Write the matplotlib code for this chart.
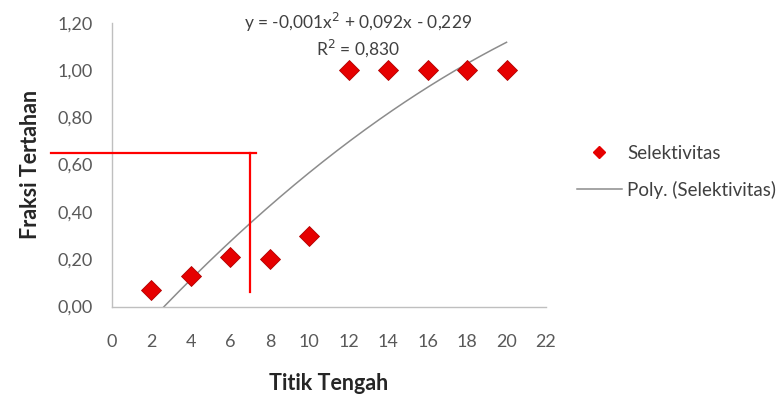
import numpy as np
import matplotlib
matplotlib.use('Agg')
import matplotlib.pyplot as plt
from matplotlib.lines import Line2D
from matplotlib.ticker import FuncFormatter

plt.rcParams['font.family'] = ['Lato', 'DejaVu Sans']

# data
titik_tengah = [2, 4, 6, 8, 10, 12, 14, 16, 18, 20]
selektivitas = [0.07, 0.13, 0.21, 0.20, 0.30, 1.00, 1.00, 1.00, 1.00, 1.00]
eq_label = 'y = -0,001x$^2$ + 0,092x - 0,229'
r2_label = 'R$^2$ = 0,830'
# reading lines (red)
y_read = 0.65
x_read = 7.0

fig = plt.figure(figsize=(7.82, 3.96), dpi=100)
ax = fig.add_axes([112 / 782, 89.5 / 396, 434 / 782, 283.8 / 396])

# polynomial trendline (order 2) fitted to the points
coef = np.polyfit(titik_tengah, selektivitas, 2)
xs = np.linspace(min(titik_tengah), max(titik_tengah), 200)
ax.plot(xs, np.polyval(coef, xs), color='#8c8c8c', lw=1.1, zorder=2)

ax.plot(titik_tengah, selektivitas, ls='none', marker='D', ms=10,
        color='#e60000', mec='#b00000', mew=0.6, zorder=3)

# red guide lines
ax.plot([-3.1, x_read + 0.28], [y_read, y_read], color='red', lw=1.6,
        clip_on=False, zorder=4)
ax.plot([x_read, x_read], [0.062, y_read], color='red', lw=1.6, zorder=4)

ax.set_xlim(0, 22)
ax.set_ylim(0, 1.2)
ax.set_xticks(range(0, 23, 2))
ax.set_yticks(np.arange(0, 1.21, 0.2))
ax.yaxis.set_major_formatter(FuncFormatter(lambda v, p: f'{v:.2f}'.replace('.', ',')))
ax.tick_params(length=0, labelsize=13, colors='#595959')
ax.tick_params(axis='y', pad=14)
ax.tick_params(axis='x', pad=20)
for s in ['top', 'right']:
    ax.spines[s].set_visible(False)
for s in ['left', 'bottom']:
    ax.spines[s].set_color('#bfbfbf')
    ax.spines[s].set_linewidth(1.0)

ax.set_xlabel('Titik Tengah', fontsize=15.5, fontweight='bold', color='#262626', labelpad=16)
ax.set_ylabel('Fraksi Tertahan', fontsize=15.5, fontweight='bold', color='#262626', labelpad=12)

fig.text(358 / 782, 1 - 22 / 396, eq_label, ha='center', va='center', fontsize=12.5, color='#404040')
fig.text(358 / 782, 1 - 48 / 396, r2_label, ha='center', va='center', fontsize=12.5, color='#404040')

handles = [Line2D([], [], ls='none', marker='D', ms=6, color='#e60000'),
           Line2D([], [], color='#8c8c8c', lw=1.1)]
fig.legend(handles, ['Selektivitas', 'Poly. (Selektivitas)'], loc='upper left',
           bbox_to_anchor=(560 / 782, 1 - 128 / 396), frameon=False, fontsize=13.5,
           handlelength=2.4, handletextpad=0.27, labelspacing=1.0, labelcolor='#404040')

fig.savefig('out.png', dpi=100)
